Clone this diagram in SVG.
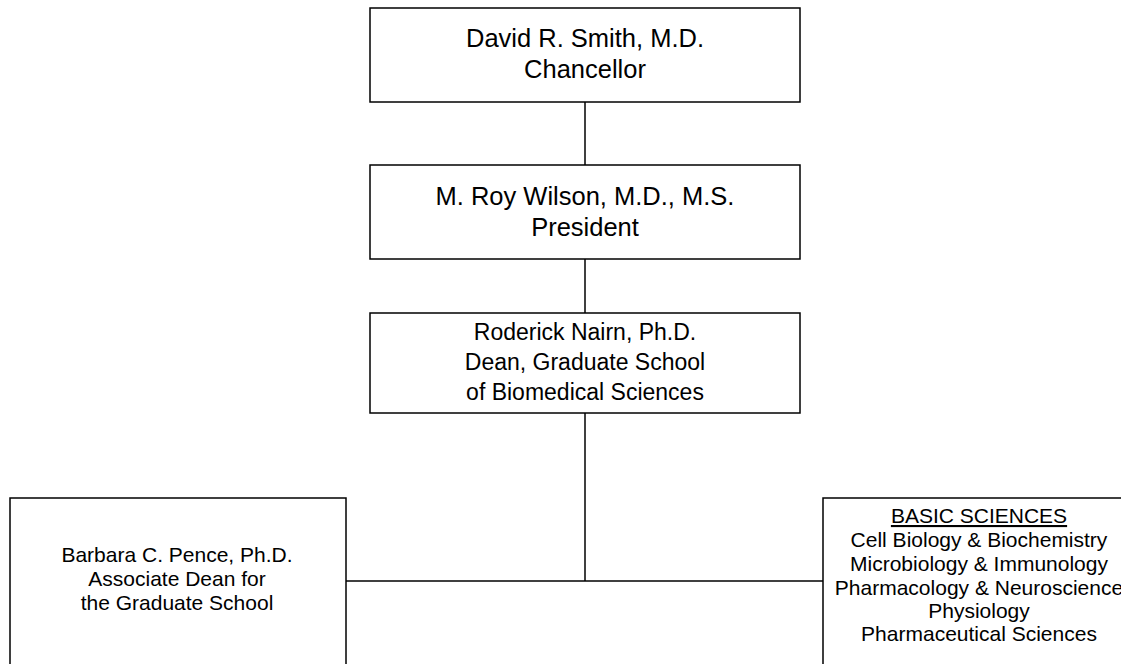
<svg xmlns="http://www.w3.org/2000/svg" width="1121" height="664" viewBox="0 0 1121 664">
<style>
.box{fill:#fff;stroke:#000;stroke-width:1.5}
.conn{stroke:#000;stroke-width:1.5;fill:none}
text{font-family:"Liberation Sans",Arial,sans-serif;fill:#000;text-anchor:middle}
.t1{font-size:25.5px}
.t2{font-size:23px}
.t3{font-size:21px}
</style>
<rect width="1121" height="664" fill="#fff"/>
<g id="connectors">
<line class="conn" x1="585" y1="102" x2="585" y2="165"/>
<line class="conn" x1="585" y1="259" x2="585" y2="313"/>
<line class="conn" x1="585" y1="413" x2="585" y2="581"/>
<line class="conn" x1="346" y1="581" x2="823" y2="581"/>
</g>
<g id="chancellor">
<rect class="box" x="370" y="8" width="430" height="94"/>
<text class="t1" x="585" y="47">David R. Smith, M.D.</text>
<text class="t1" x="585" y="78">Chancellor</text>
</g>
<g id="president">
<rect class="box" x="370" y="165" width="430" height="94"/>
<text class="t1" x="585" y="205">M. Roy Wilson, M.D., M.S.</text>
<text class="t1" x="585" y="236">President</text>
</g>
<g id="dean">
<rect class="box" x="370" y="313" width="430" height="100"/>
<text class="t2" x="585" y="340">Roderick Nairn, Ph.D.</text>
<text class="t2" x="585" y="370">Dean, Graduate School</text>
<text class="t2" x="585" y="400">of Biomedical Sciences</text>
</g>
<g id="associate-dean">
<rect class="box" x="10" y="498" width="336" height="180"/>
<text class="t3" x="177" y="562">Barbara C. Pence, Ph.D.</text>
<text class="t3" x="177" y="586">Associate Dean for</text>
<text class="t3" x="177" y="610">the Graduate School</text>
</g>
<g id="basic-sciences">
<rect class="box" x="823" y="498" width="310" height="180"/>
<text class="t3" x="979" y="523" text-decoration="underline">BASIC SCIENCES</text>
<text class="t3" x="979" y="547">Cell Biology &amp; Biochemistry</text>
<text class="t3" x="979" y="571">Microbiology &amp; Immunology</text>
<text class="t3" x="979" y="595">Pharmacology &amp; Neuroscience</text>
<text class="t3" x="979" y="618">Physiology</text>
<text class="t3" x="979" y="641">Pharmaceutical Sciences</text>
</g>
</svg>
